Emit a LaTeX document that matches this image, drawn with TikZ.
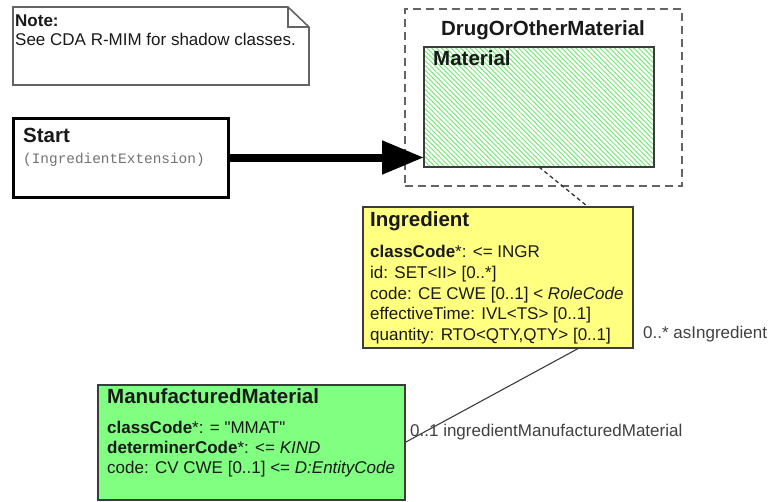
\documentclass[tikz,border=0pt]{standalone}
\usepackage{fontspec}
\setmainfont{Liberation Sans}
\newfontfamily\rawsans{Liberation Sans}
\newfontfamily\monofont{Liberation Mono}
\usetikzlibrary{patterns.meta,arrows.meta}
\definecolor{ingyellow}{RGB}{255,255,128}
\definecolor{mmgreen}{RGB}{128,255,128}
\definecolor{hatchgreen}{RGB}{120,232,120}
\definecolor{edgegray}{RGB}{60,60,60}
\definecolor{notegray}{RGB}{100,100,100}
\definecolor{txtcol}{RGB}{25,25,25}
\tikzset{
  classbox/.style={draw=edgegray, line width=1.3pt, anchor=north west, inner sep=0pt, outer sep=0pt},
  txt/.style={anchor=base west, inner sep=0pt, font=\fontsize{17}{20}\selectfont, text=txtcol},
  ttl/.style={anchor=base west, inner sep=0pt, font=\fontsize{20.5}{24}\selectfont\bfseries, text=txtcol},
  lbl/.style={anchor=base west, inner sep=0pt, font=\fontsize{17}{20}\selectfont, text=black!75},
  assoc/.style={draw=edgegray, line width=1.1pt},
}
\begin{document}
\begin{tikzpicture}[x=1pt,y=-1pt]
\useasboundingbox (0,0) rectangle (771,501);

% Note
\draw[draw=notegray, line width=1.6pt, fill=white] (13,7) -- (288,7) -- (309,27) -- (309,85) -- (13,85) -- cycle;
\draw[draw=notegray, line width=1.4pt] (288,7) -- (288,27) -- (309,27);
\node[txt, font=\fontsize{17}{20}\selectfont\bfseries] (notettl) at (15,26) {Note:};
\node[txt] (notetxt) at (15,45) {See CDA R-MIM for shadow classes.};

% Start
\node[draw=black, line width=3pt, anchor=north west, inner sep=0pt, outer sep=0pt, minimum width=215pt, minimum height=79pt, fill=white] (start) at (13,118) {};
\node[ttl] (startttl) at (23,142) {Start};
\node[anchor=base west, inner sep=0pt, font=\monofont\fontsize{14.4}{17}\selectfont, text=black!55] (startsub) at (23,163) {(IngredientExtension)};

% DrugOrOtherMaterial container
\node[draw=notegray, line width=1.6pt, dash pattern=on 8pt off 5pt, anchor=north west, inner sep=0pt, outer sep=0pt, minimum width=277pt, minimum height=177pt] (drug) at (405,9) {};
\node[anchor=base, inner sep=0pt, font=\fontsize{20.5}{24}\selectfont\bfseries, text=txtcol] (drugttl) at (543,35) {DrugOrOtherMaterial};

% Material (hatched)
\node[classbox, minimum width=230pt, minimum height=120pt, fill=white,
  postaction={pattern={Lines[angle=-45,distance=3.4pt,line width=1pt]}, pattern color=hatchgreen}] (material) at (424,47) {};
\draw[draw=edgegray, line width=1.3pt] (material.north west) rectangle (material.south east);
\node[ttl] (materialttl) at (433,65) {Material};

% Arrow Start -> Material
\draw[line width=8pt, -{Triangle[length=42pt,width=32pt]}] (start.east) -- (start.east -| material.west);

% Ingredient
\node[classbox, minimum width=270pt, minimum height=141pt, fill=ingyellow] (ingredient) at (363,207) {};
\node[ttl] (ingttl) at (370,226) {Ingredient};
\node[txt] (ing1) at (370,257) {\textbf{classCode}*: <= INGR};
\node[txt] (ing2) at (370,278) {id: SET<II> [0..*]};
\node[txt] (ing3) at (370,299) {code: CE CWE [0..1] < \textit{RoleCode}};
\node[txt] (ing4) at (370,319) {effectiveTime: IVL<TS> [0..1]};
\node[txt] (ing5) at (370,340) {quantity: RTO<QTY,QTY> [0..1]};

% ManufacturedMaterial
\node[classbox, minimum width=307pt, minimum height=115pt, fill=mmgreen] (mm) at (98,385) {};
\node[ttl] (mmttl) at (107,403) {ManufacturedMaterial};
\node[txt] (mm1) at (107,433) {\textbf{classCode}*: = {\rawsans"MMAT"}};
\node[txt] (mm2) at (107,453) {\textbf{determinerCode}*: <= \textit{KIND}};
\node[txt] (mm3) at (107,473) {code: CV CWE [0..1] <= \textit{D:EntityCode}};

% Connectors
\draw[draw=black!80, line width=1.3pt, dash pattern=on 4pt off 3pt] (material.south) -- (ingredient.38);
\draw[assoc] (ingredient.-41) -- (mm.east);

% Labels
\node[lbl] (lblasing) at (643,338) {0..* asIngredient};
\node[lbl] (lblimm) at (410,436) {0..1 ingredientManufacturedMaterial};
\end{tikzpicture}
\end{document}
